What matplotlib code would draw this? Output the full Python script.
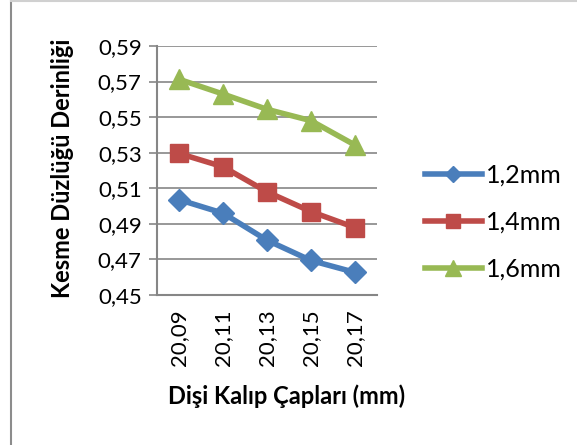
import matplotlib.pyplot as plt
from matplotlib.lines import Line2D

plt.rcParams['font.family'] = ['Lato', 'DejaVu Sans']

categories = ["20,09", "20,11", "20,13", "20,15", "20,17"]
s12 = [0.5036, 0.4960, 0.4808, 0.4694, 0.4627]
s14 = [0.5296, 0.5221, 0.5080, 0.4969, 0.4879]
s16 = [0.5713, 0.5630, 0.5544, 0.5480, 0.5343]
names = ["1,2mm", "1,4mm", "1,6mm"]
yticks = [0.45, 0.47, 0.49, 0.51, 0.53, 0.55, 0.57, 0.59]

W, H = 577, 445
fig = plt.figure(figsize=(W / 100, H / 100), dpi=100)
ax = fig.add_axes([157 / W, 1 - 295 / H, 220 / W, 249 / H])

x = list(range(len(categories)))
ax.plot(x, s12, color="#4A7EBB", lw=4, marker="D", ms=11, label=names[0])
ax.plot(x, s14, color="#BE4B48", lw=4, marker="s", ms=13, label=names[1])
ax.plot(x, s16, color="#98B954", lw=4, marker="^", ms=15, label=names[2])

ax.set_xlim(-0.5, 4.5)
ax.set_ylim(0.45, 0.59)
ax.set_yticks(yticks)
ax.set_yticklabels([("%.2f" % v).replace(".", ",") for v in yticks], fontsize=16)
ax.set_xticks(x)
ax.set_xticklabels(categories, rotation=90, fontsize=16)
ax.tick_params(axis="x", length=0, pad=10)
ax.tick_params(axis="y", length=6, color="#868686", width=1.2, pad=5)
ax.grid(axis="y", color="#868686", lw=1.2)
ax.set_axisbelow(True)
for s in ["top", "right"]:
    ax.spines[s].set_visible(False)
for s in ["left", "bottom"]:
    ax.spines[s].set_color("#868686")
    ax.spines[s].set_linewidth(1.5)

fig.text(63 / W, 1 - 168 / H, "Kesme Düzlüğü Derinliği", rotation=90,
         ha="center", va="center", fontsize=17, fontweight="bold")
fig.text(287 / W, 1 - 396 / H, "Dişi Kalıp Çapları (mm)",
         ha="center", va="center", fontsize=17, fontweight="bold")

ax.legend(loc="center left", bbox_to_anchor=(402 / W, 1 - 222 / H),
          bbox_transform=fig.transFigure, frameon=False, fontsize=18,
          handlelength=2.3, labelspacing=0.95, handletextpad=0.15,
          markerscale=0.75)

# chart area border pieces
fig.add_artist(Line2D([11.5 / W, 11.5 / W], [0, 1], color="#8c8c8c", lw=1.5))
fig.add_artist(Line2D([11.5 / W, 1], [1 - 1 / H, 1 - 1 / H], color="#d0d0d0", lw=1.5))

fig.savefig("out.png", dpi=100)
